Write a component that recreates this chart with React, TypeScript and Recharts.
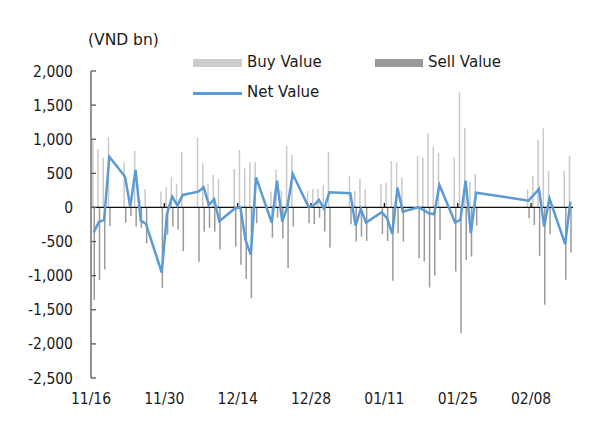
import {
  ComposedChart,
  Bar,
  Line,
  XAxis,
  YAxis,
  ReferenceLine,
} from "recharts"

const tradeDates = [
  "2021-11-16", "2021-11-17", "2021-11-18", "2021-11-19", "2021-11-22", "2021-11-23",
  "2021-11-24", "2021-11-25", "2021-11-26", "2021-11-29", "2021-11-30",
  "2021-12-01", "2021-12-02", "2021-12-03", "2021-12-06", "2021-12-07", "2021-12-08",
  "2021-12-09", "2021-12-10", "2021-12-13", "2021-12-14", "2021-12-15", "2021-12-16",
  "2021-12-17", "2021-12-20", "2021-12-21", "2021-12-22", "2021-12-23", "2021-12-24",
  "2021-12-27", "2021-12-28", "2021-12-29", "2021-12-30", "2021-12-31",
  "2022-01-04", "2022-01-05", "2022-01-06", "2022-01-07", "2022-01-10", "2022-01-11",
  "2022-01-12", "2022-01-13", "2022-01-14", "2022-01-17", "2022-01-18", "2022-01-19",
  "2022-01-20", "2022-01-21", "2022-01-24", "2022-01-25", "2022-01-26", "2022-01-27",
  "2022-01-28", "2022-02-07", "2022-02-08", "2022-02-09", "2022-02-10", "2022-02-11",
  "2022-02-14", "2022-02-15",
]

const buyValues = [
  986, 857, 730, 1027, 661, 140, 827, 110, 270, 232, 300,
  442, 350, 818, 1027, 647, 340, 476, 415, 564, 842, 574, 661,
  671, 232, 549, 244, 900, 769, 244, 272, 271, 332, 818,
  461, 242, 417, 266, 339, 364, 681, 661, 440, 754, 730, 1086,
  891, 803, 730, 1686, 1169, 378, 486, 266, 461, 988, 1159, 534,
  534, 759,
]

const sellValues = [
  -1355, -1062, -910, -271, -222, -125, -281, -300, -525, -1184, -400,
  -281, -325, -640, -795, -355, -300, -356, -617, -576, -839, -1050, -1330,
  -232, -442, -149, -452, -889, -281, -232, -246, -149, -354, -588,
  -246, -500, -427, -491, -393, -491, -1074, -378, -500, -744, -793, -1174,
  -998, -476, -940, -1843, -769, -720, -266, -159, -256, -710, -1428, -393,
  -1061, -661,
]

const netValues = [
  -369, -212, -183, 744, 451, 12, 549, -193, -242, -955, -95,
  158, 26, 183, 231, 296, 37, 120, -202, -12, 3, -476, -696,
  442, -222, 392, -208, 12, 490, 12, 26, 110, -22, 222,
  208, -266, -22, -222, -70, -158, -388, 290, -61, 3, -40, -85,
  -100, 329, -222, -183, 392, -378, 217, 100, 183, 271, -281, 134,
  -539, 85,
]

const startDate = "2021-11-16"
const daySpan = 92
const tickLabels = ["11/16", "11/30", "12/14", "12/28", "01/11", "01/25", "02/08"]
const yTicks = [-2500, -2000, -1500, -1000, -500, 0, 500, 1000, 1500, 2000]

const DAY = 86400000
const data = tradeDates.map((d, i) => ({
  day: (Date.parse(d) - Date.parse(startDate)) / DAY + 0.5,
  buy: buyValues[i],
  sell: sellValues[i],
  net: netValues[i],
}))
const xTicks = tickLabels.map((_, i) => i * 14)

// axis numbers look narrow in the original, legend text wider
const axisFont = "'DejaVu Sans Condensed', 'DejaVu Sans', sans-serif"
const labelFont = "'DejaVu Sans', sans-serif"
const textColor = "#1a1a1a"

export default function App() {
  return (
    <div
      style={{
        position: "absolute",
        left: 0,
        top: 0,
        width: 591,
        height: 421,
        background: "#fff",
        fontFamily: labelFont,
      }}
    >
      <ComposedChart
        width={591}
        height={421}
        data={data}
        margin={{ top: 71, right: 18, bottom: 13, left: 0 }}
        barGap={0}
      >
        <XAxis
          dataKey="day"
          type="number"
          domain={[0, daySpan]}
          ticks={xTicks}
          tickFormatter={(v: number) => tickLabels[Math.round(v / 14)] ?? ""}
          axisLine={false}
          tickLine={false}
          tickSize={0}
          tickMargin={15}
          height={30}
          tick={{ fill: textColor, fontSize: 15.5, fontFamily: axisFont, fontStretch: "condensed" }}
          allowDataOverflow
        />
        <YAxis
          type="number"
          domain={[-2500, 2000]}
          ticks={yTicks}
          width={91}
          tickFormatter={(v: number) => v.toLocaleString("en-US")}
          axisLine={{ stroke: "#595959", strokeWidth: 1.3 }}
          tickLine={{ stroke: "#595959", strokeWidth: 1.3 }}
          tickSize={-5}
          tickMargin={23}
          tick={{ fill: textColor, fontSize: 15.5, fontFamily: axisFont, fontStretch: "condensed" }}
          allowDataOverflow
        />
        <Bar dataKey="buy" fill="#c9c9c9" barSize={1.5} isAnimationActive={false} />
        <Bar dataKey="sell" fill="#9a9a9a" barSize={1.5} isAnimationActive={false} />
        <ReferenceLine y={0} stroke="#111" strokeWidth={1.3} />
        {xTicks.slice(1).map((t) => (
          <ReferenceLine
            key={t}
            segment={[
              { x: t, y: 0 },
              { x: t, y: 65 },
            ]}
            stroke="#111"
            strokeWidth={1.3}
          />
        ))}
        <Line
          dataKey="net"
          type="linear"
          stroke="#5b9bd5"
          strokeWidth={2.5}
          dot={false}
          isAnimationActive={false}
        />
      </ComposedChart>

      <div style={{ position: "absolute", left: 88, top: 31, fontSize: 15.5, color: textColor }}>
        (VND bn)
      </div>

      <div style={{ position: "absolute", left: 193, top: 59, width: 49, height: 8, background: "#cccccc" }} />
      <div style={{ position: "absolute", left: 247, top: 53, fontSize: 15, color: textColor }}>Buy Value</div>

      <div style={{ position: "absolute", left: 375, top: 59, width: 48, height: 8, background: "#999999" }} />
      <div style={{ position: "absolute", left: 428, top: 53, fontSize: 15, color: textColor }}>Sell Value</div>

      <div style={{ position: "absolute", left: 193, top: 92, width: 49, height: 2.5, background: "#5b9bd5" }} />
      <div style={{ position: "absolute", left: 247, top: 83, fontSize: 15, color: textColor }}>Net Value</div>
    </div>
  )
}
